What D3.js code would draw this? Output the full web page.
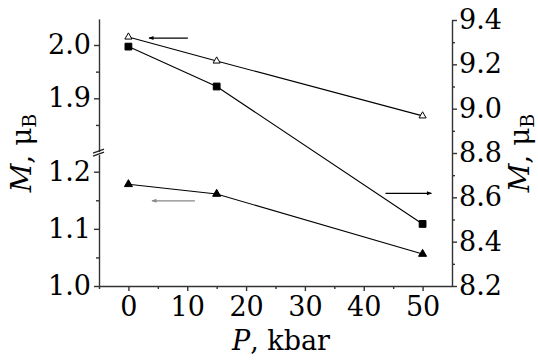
<!DOCTYPE html>
<html>
<head>
<meta charset="utf-8">
<script src="https://cdn.jsdelivr.net/npm/d3@7/dist/d3.min.js"></script>
<style>
  body { margin: 0; background: #fff; }
</style>
</head>
<body>
<svg id="chart" width="538" height="363"></svg>
<script>
// pressure points (kbar)
const pressure = [0, 15, 50]
// left axis, upper branch (open triangles)
const openTri = [2.015, 1.970, 1.867]
// left axis, lower branch (filled triangles)
const filledTri = [1.178, 1.161, 1.056]
// right axis (filled squares)
const filledSq = [9.28, 9.10, 8.48]

const xTicks = [0, 10, 20, 30, 40, 50]
const xMinor = [-5, 5, 15, 25, 35, 45]
const lowTicks = [1.0, 1.1, 1.2]
const lowMinor = [1.05, 1.15]
const highTicks = [1.9, 2.0]
const highMinor = [1.85, 1.95]
const rightTicks = [8.2, 8.4, 8.6, 8.8, 9.0, 9.2, 9.4]
const rightMinor = [8.3, 8.5, 8.7, 8.9, 9.1, 9.3]

// arrows pointing to the axis each curve belongs to
const arrows = [
  { from: 10.1, to: 3.5, v: 2.013, axis: 'high', color: '#000' },
  { from: 11.3, to: 4.0, v: 1.149, axis: 'low', color: '#888' },
  { from: 43.7, to: 51.5, v: 8.618, axis: 'right', color: '#000' },
]

const svg = d3.select('#chart')
const left = 99, right = 452, bottom = 286

const x = d3.scaleLinear().domain([-5, 55]).range([left, right])
// broken left axis: two pieces with the same px per unit
const yLow = d3.scaleLinear().domain([1.0, 1.23]).range([bottom, bottom - 0.23 * 571.5])
const yHigh = d3.scaleLinear().domain([1.8, 2.049]).range([151.6, 151.6 - 0.249 * 533])
const yR = d3.scaleLinear().domain([8.2, 9.4]).range([bottom, 20])
const scales = { low: yLow, high: yHigh, right: yR }

const fmt = d3.format('.1f')
const serif = 'DejaVu Serif'

function styleAxis(g) {
  g.attr('font-family', null)
  g.select('.domain').attr('stroke', '#333').attr('stroke-width', 1.4)
  g.selectAll('.tick line').attr('stroke', '#333').attr('stroke-width', 1.4)
  g.selectAll('text').attr('font-size', null).attr('fill', '#000')
    .style('font-family', serif).style('font-size', '27px')
}

// bottom axis
svg.append('g')
  .attr('transform', `translate(0,${bottom})`)
  .call(d3.axisBottom(x).tickValues(xTicks).tickSize(5).tickSizeOuter(0).tickPadding(6))
  .call(styleAxis)
svg.append('g')
  .attr('transform', `translate(0,${bottom})`)
  .call(d3.axisBottom(x).tickValues(xMinor).tickSize(3).tickFormat(''))
  .call(g => g.select('.domain').remove())
  .call(styleAxis)

// left axis, lower and upper pieces
svg.append('g')
  .attr('transform', `translate(${left},0)`)
  .call(d3.axisLeft(yLow).tickValues(lowTicks).tickSize(5).tickSizeOuter(0).tickPadding(3).tickFormat(fmt))
  .call(styleAxis)
svg.append('g')
  .attr('transform', `translate(${left},0)`)
  .call(d3.axisLeft(yLow).tickValues(lowMinor).tickSize(3).tickFormat(''))
  .call(g => g.select('.domain').remove())
  .call(styleAxis)
svg.append('g')
  .attr('transform', `translate(${left},0)`)
  .call(d3.axisLeft(yHigh).tickValues(highTicks).tickSize(5).tickSizeOuter(0).tickPadding(3).tickFormat(fmt))
  .call(styleAxis)
svg.append('g')
  .attr('transform', `translate(${left},0)`)
  .call(d3.axisLeft(yHigh).tickValues(highMinor).tickSize(3).tickFormat(''))
  .call(g => g.select('.domain').remove())
  .call(styleAxis)

// break marks
const brk = svg.append('g').attr('stroke', '#222').attr('stroke-width', 1.4)
;[yHigh(1.8), yLow(1.23)].forEach(yy => {
  brk.append('line').attr('x1', left - 6).attr('x2', left + 5).attr('y1', yy + 1.5).attr('y2', yy - 2.5)
})

// right axis
svg.append('g')
  .attr('transform', `translate(${right},0)`)
  .call(d3.axisRight(yR).tickValues(rightTicks).tickSize(5).tickSizeOuter(0).tickPadding(2).tickFormat(fmt))
  .call(styleAxis)
svg.append('g')
  .attr('transform', `translate(${right},0)`)
  .call(d3.axisRight(yR).tickValues(rightMinor).tickSize(3).tickFormat(''))
  .call(g => g.select('.domain').remove())
  .call(styleAxis)

// series
const series = [
  { vals: openTri, y: yHigh, sym: d3.symbolTriangle, size: 22, fill: '#fff' },
  { vals: filledSq, y: yR, sym: d3.symbolSquare, size: 46, fill: '#000' },
  { vals: filledTri, y: yLow, sym: d3.symbolTriangle, size: 28, fill: '#000' },
]
series.forEach(s => {
  const pts = pressure.map((p, i) => [x(p), s.y(s.vals[i])])
  svg.append('path')
    .attr('d', d3.line()(pts))
    .attr('fill', 'none').attr('stroke', '#000').attr('stroke-width', 1.1)
  svg.selectAll(null).data(pts).enter().append('path')
    .attr('d', d3.symbol().type(s.sym).size(s.size))
    .attr('transform', d => `translate(${d[0]},${d[1]})`)
    .attr('fill', s.fill).attr('stroke', '#000').attr('stroke-width', 1)
})

// arrows
const defs = svg.append('defs')
arrows.forEach((a, i) => {
  defs.append('marker').attr('id', 'ah' + i)
    .attr('viewBox', '0 0 10 10').attr('refX', 9).attr('refY', 5)
    .attr('markerWidth', 6).attr('markerHeight', 5).attr('markerUnits', 'userSpaceOnUse')
    .attr('orient', 'auto')
    .append('path').attr('d', 'M0,1L10,5L0,9Z').attr('fill', a.color)
  const yy = scales[a.axis](a.v)
  svg.append('line')
    .attr('x1', x(a.from)).attr('x2', x(a.to)).attr('y1', yy).attr('y2', yy)
    .attr('stroke', a.color).attr('stroke-width', 1.2)
    .attr('marker-end', `url(#ah${i})`)
})

// axis titles
const xt = svg.append('text').attr('x', 281).attr('y', 350).attr('text-anchor', 'middle')
  .style('font-family', serif).style('font-size', '27px')
xt.append('tspan').attr('font-style', 'italic').text('P')
xt.append('tspan').text(', kbar')

function mTitle(tx) {
  const t = svg.append('text')
    .attr('transform', `translate(${tx},153) rotate(-90)`)
    .attr('text-anchor', 'middle')
    .style('font-family', serif).style('font-size', '28px')
  t.append('tspan').attr('font-style', 'italic').text('M')
  t.append('tspan').text(', μ')
  t.append('tspan').style('font-size', '19px').attr('dy', 5).text('B')
}
mTitle(31)
mTitle(529)
</script>
</body>
</html>
